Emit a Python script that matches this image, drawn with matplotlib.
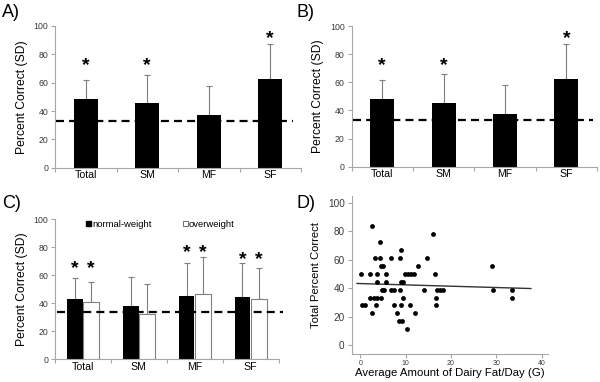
import numpy as np
import matplotlib
matplotlib.use("Agg")
import matplotlib.pyplot as plt
from matplotlib.lines import Line2D

plt.rcParams['font.family'] = ['Liberation Sans', 'DejaVu Sans']

# ---- data ----
categories = ["Total", "SM", "MF", "SF"]
chance = 33.3

# panels A and B (same values)
a_mean = [48.5, 45.5, 37.3, 62.4]
a_sd = [13.2, 20.1, 20.4, 24.6]
a_stars = [74, 74, None, 93.6]

b_mean = [48.4, 45.6, 37.4, 62.4]
b_sd = [13.3, 20.1, 20.4, 24.6]
b_stars = [74, 74, None, 93.6]

# panel C
c_normal = [42.6, 37.6, 45.2, 44.5]
c_normal_sd = [15.0, 21.2, 23.6, 23.8]
c_over = [40.9, 32.4, 46.2, 43.1]
c_over_sd = [14.1, 21.2, 26.7, 21.7]
c_stars_normal = [67.1, None, 78.3, 73.6]
c_stars_over = [67.1, None, 78.3, 73.6]

# panel D: dairy fat (g/day) vs total percent correct
dairy_fat = [2.6, 16.0, 4.3, 9.0,
             3.2, 4.3, 6.8, 8.7, 14.8,
             4.6, 5.0, 12.7, 29.0,
             0.15, 2.1, 3.8, 5.6, 9.9, 10.5, 11.2, 11.9, 16.5,
             3.8, 5.6, 9.0, 9.4,
             4.8, 5.3, 6.8, 7.5, 8.7, 14.0, 16.9, 17.6, 18.3, 29.3, 33.4,
             2.1, 3.1, 3.8, 4.55, 9.4, 16.6, 33.5,
             0.3, 1.0, 3.4, 7.5, 8.9, 11.0, 16.7,
             2.7, 8.1, 12.0,
             8.6, 9.1,
             10.2]
total_correct = [83.3, 77.8, 72.2, 66.7,
                 61.1, 61.1, 61.1, 61.1, 61.1,
                 55.6, 55.6, 55.6, 55.6,
                 50, 50, 50, 50, 50, 50, 50, 50, 50,
                 44.4, 44.4, 44.4, 44.4,
                 38.9, 38.9, 38.9, 38.9, 38.9, 38.9, 38.9, 38.9, 38.9, 38.9, 38.9,
                 33.3, 33.3, 33.3, 33.3, 33.3, 33.3, 33.3,
                 27.8, 27.8, 27.8, 27.8, 27.8, 27.8, 27.8,
                 22.2, 22.2, 22.2,
                 16.7, 16.7,
                 11.1]
fit_intercept = 43.2
fit_slope = -0.093
fit_range = [-0.7, 37.6]

AXIS_GRAY = '#a6a6a6'
TICK_TXT = '#3a3a3a'
ERR_GRAY = '#7f7f7f'


def style_bar_axes(ax):
    for s in ['top', 'right']:
        ax.spines[s].set_visible(False)
    for s in ['left', 'bottom']:
        ax.spines[s].set_color(AXIS_GRAY)
        ax.spines[s].set_linewidth(0.8)
    ax.set_ylim(0, 100)
    ax.set_yticks(range(0, 101, 20))
    ax.set_xlim(-0.5, 3.5)
    ax.set_xticks(range(4))
    ax.set_xticklabels(categories, fontsize=7.6)
    ax.set_xticks(np.arange(-0.5, 3.6, 1), minor=True)
    ax.tick_params(axis='x', which='major', length=0, pad=2)
    ax.tick_params(axis='x', which='minor', length=3, color=AXIS_GRAY, width=0.8)
    ax.tick_params(axis='y', length=3, color=AXIS_GRAY, width=0.8,
                   labelsize=6.3, labelcolor=TICK_TXT, pad=2)
    ax.set_ylabel("Percent Correct (SD)", fontsize=8.7, labelpad=4)


def star(ax, x, y):
    ax.annotate("*", (x, y), xytext=(0, -5.5), textcoords='offset points',
                ha='center', va='baseline', fontsize=14, fontweight='bold',
                color='black')


def single_panel(ax, means, sds, stars, dash_end):
    x = np.arange(len(categories))
    ax.bar(x, means, width=0.39, color='black', zorder=2)
    ax.errorbar(x, means, yerr=[np.zeros(len(sds)), sds], fmt='none',
                ecolor=ERR_GRAY, elinewidth=0.8, capsize=2, capthick=0.8, zorder=1)
    ax.axhline(chance, xmin=0.005, xmax=dash_end, color='black', lw=1.6,
               dashes=(3.6, 2.3), zorder=3, clip_on=False)
    for xi, s in zip(x, stars):
        if s is not None:
            star(ax, xi, s)
    style_bar_axes(ax)


fig = plt.figure(figsize=(6, 3.82), dpi=100)

ax_a = fig.add_axes([0.0917, 0.561, 0.41, 0.371])
single_panel(ax_a, a_mean, a_sd, a_stars, 0.968)

ax_b = fig.add_axes([0.586, 0.5636, 0.409, 0.368])
single_panel(ax_b, b_mean, b_sd, b_stars, 0.984)

# panel C
ax_c = fig.add_axes([0.0917, 0.0602, 0.3725, 0.3665])
x = np.arange(len(categories))
w = 0.28
ax_c.bar(x - w / 2 - 0.005, c_normal, width=w, color='black', zorder=2)
ax_c.bar(x + w / 2 + 0.005, c_over, width=w, color='white', edgecolor='#808080',
         linewidth=0.8, zorder=2)
ax_c.errorbar(x - w / 2 - 0.005, c_normal, yerr=[np.zeros(4), c_normal_sd], fmt='none',
              ecolor=ERR_GRAY, elinewidth=0.8, capsize=2, capthick=0.8, zorder=1)
ax_c.errorbar(x + w / 2 + 0.005, c_over, yerr=[np.zeros(4), c_over_sd], fmt='none',
              ecolor=ERR_GRAY, elinewidth=0.8, capsize=2, capthick=0.8, zorder=1)
ax_c.axhline(chance, xmin=0.008, xmax=1.02, color='black', lw=1.6,
             dashes=(3.6, 2.3), zorder=3, clip_on=False)
for xi, s1, s2 in zip(x, c_stars_normal, c_stars_over):
    if s1 is not None:
        star(ax_c, xi - w / 2, s1)
    if s2 is not None:
        star(ax_c, xi + w / 2, s2)
style_bar_axes(ax_c)
handles = [Line2D([], [], marker='s', ls='none', mfc='black', mec='black', ms=3.6),
           Line2D([], [], marker='s', ls='none', mfc='white', mec='#555555', ms=3.6, mew=0.6)]
ax_c.legend(handles, ["normal-weight", "overweight"], ncol=2, frameon=False,
            loc='center left', bbox_to_anchor=(0.135, 0.964), fontsize=6.8,
            handlelength=0.6, handletextpad=0.15, columnspacing=3.2,
            borderpad=0, borderaxespad=0)

# panel D
ax_d = fig.add_axes([0.586, 0.0725, 0.3277, 0.4144])
ax_d.scatter(dairy_fat, total_correct, s=12, color='black', linewidths=0, zorder=2)
fx = np.array(fit_range)
ax_d.plot(fx, fit_intercept + fit_slope * fx, color='#333333', lw=1.0, zorder=1)
ax_d.set_xlim(-1.9, 41.4)
ax_d.set_ylim(-6.5, 104.7)
ax_d.set_xticks(range(0, 41, 10))
ax_d.set_yticks(range(0, 101, 20))
for s in ['top', 'right']:
    ax_d.spines[s].set_visible(False)
for s in ['left', 'bottom']:
    ax_d.spines[s].set_color(AXIS_GRAY)
    ax_d.spines[s].set_linewidth(0.8)
ax_d.tick_params(axis='y', length=3, color=AXIS_GRAY, width=0.8,
                 labelsize=7.2, labelcolor=TICK_TXT, pad=2)
ax_d.tick_params(axis='x', length=3, color=AXIS_GRAY, width=0.8,
                 labelsize=5, labelcolor=TICK_TXT, pad=1)
ax_d.set_xlabel("Average Amount of Dairy Fat/Day (G)", fontsize=8.2, labelpad=1)
ax_d.set_ylabel("Total Percent Correct", fontsize=8.1, labelpad=5)

# panel letters
for lbl, px, py in [("A)", 2, 4), ("B)", 296, 4), ("C)", 2, 195), ("D)", 296, 195)]:
    fig.text(px / 600, 1 - py / 382, lbl, fontsize=13, ha='left', va='top')

fig.savefig("out.png", dpi=100)
